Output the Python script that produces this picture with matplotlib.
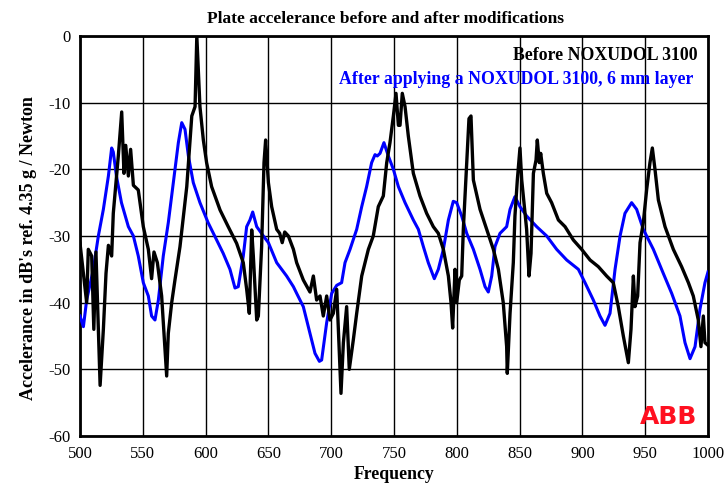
import matplotlib.pyplot as plt

# Before NOXUDOL 3100 (black)
freq_before = [500, 502.7, 505.3, 506.6, 509.3, 511, 512.7, 516, 518.6, 520.7, 522.6, 525.2, 526.5, 530.5,
               533.2, 535, 536.4, 538.5, 540.3, 542.5, 546.4, 550.4, 554.4, 557, 558.9, 561.6, 565, 569,
               570.3, 573, 575.6, 579.6, 585, 589, 591.6, 593, 595.5, 598.2, 600.8, 604.8, 611.5, 618,
               624.7, 630, 632.7, 634.8, 636.7, 638, 640.7, 642, 644.6, 646.5, 647.8, 650, 652.6, 656.6,
               659, 661, 663, 665.9, 669.9, 672.5, 677.8, 683.1, 685.8, 688.4, 691.1, 693.7, 696.4, 699,
               701.7, 704.4, 705.7, 707.8, 709.7, 712.3, 714.4, 717.6, 720.3, 724.3, 729.6, 733.5, 737.5,
               741.5, 744.2, 746.8, 749.5, 751.6, 753.5, 754.8, 756.6, 758.8, 761.4, 765.4, 770.7, 776,
               781.3, 785.3, 789.3, 793.3, 795.4, 796.7, 798.6, 799.9, 802, 803.9, 805.2, 807.9, 809.7,
               811.3, 813.2, 818.5, 823.8, 829.1, 833.1, 837, 839.7, 840.2, 842.4, 845, 846.3, 848.2,
               850.3, 851.7, 853.5, 855.6, 857.5, 859.1, 861, 863.1, 864.1, 865.7, 866.8, 868.9, 871.6,
               875.5, 880.9, 886.2, 892.8, 899.4, 906.1, 912.7, 919.3, 924.6, 928.6, 932.6, 936.6, 938.7,
               940.6, 941.9, 944, 945.9, 948.5, 951.2, 953.8, 955.7, 957.8, 960.5, 965.8, 972.4, 979,
               984.4, 988.3, 992.3, 994.4, 996.3, 997.6, 1000]
db_before = [-31.1, -35.6, -40, -32, -33, -44, -32.4, -52.4, -44, -35.6, -31.4, -33, -26.6, -18,
             -11.4, -20.6, -16.4, -21, -17, -22.4, -23.1, -28.6, -32, -36.4, -32.4, -34, -39, -51,
             -44.6, -40, -36.6, -31.6, -22.6, -12, -10.6, 0, -10.6, -15.6, -19, -22.6, -26.1, -28.6,
             -31.1, -34, -38, -41.6, -29.1, -33, -42.6, -42, -31.6, -19, -15.6, -22, -25.6, -29,
             -29.6, -31, -29.4, -30, -32, -34, -36.6, -38.4, -36, -39.6, -39, -42, -39, -42.6,
             -41.6, -38, -44, -53.6, -46, -40.6, -50, -45.6, -41.6, -36, -32, -30, -25.6,
             -24, -19, -16, -12, -8.6, -13.4, -13.4, -8.6, -10.6, -15, -20.6, -24, -26.6,
             -28.6, -29.6, -32, -36, -40, -43.8, -35, -40, -36.6, -36, -29, -19, -12.4,
             -12, -21.6, -26, -29, -32, -35, -40, -46.6, -50.6, -41.6, -34, -27, -21.6,
             -16.8, -21.6, -25, -29, -36, -32.6, -20.6, -18.6, -15.6, -19, -17.6, -20.6, -23.6,
             -25, -27.6, -28.6, -30.6, -32, -33.6, -34.6, -36, -37, -40.6, -45, -49, -44,
             -36, -40.6, -39, -31, -28, -23, -19, -16.8, -20, -24.6, -28.6, -32, -34.6,
             -37, -39, -42.6, -46.6, -42, -46, -46.4]

# After applying a NOXUDOL 3100, 6 mm layer (blue)
freq_after = [500, 502.7, 505.3, 510.6, 514.6, 518.6, 522.6, 525.2, 526.5, 529, 533, 538.5, 542.5,
              546.4, 550.4, 554.4, 557, 559.7, 562.4, 566.3, 570.3, 574.3, 578.3, 581, 583.6, 586.3,
              590.2, 595.5, 602, 608.8, 614, 619.4, 623.4, 626, 630, 632.7, 635.3, 637.5, 640.7, 646,
              650, 656.6, 664.5, 669.9, 672.5, 677.8, 683.1, 687.1, 690.6, 692.4, 696.4, 700.4, 704.4,
              708.3, 711, 715, 720.3, 724.3, 728.2, 732.2, 734.9, 736.7, 738.9, 742, 745.5, 749.5,
              753.5, 758.8, 765.4, 769.4, 773.4, 777.3, 782.1, 785.3, 789.3, 793.3, 797.2, 799.9,
              803.9, 807.9, 813.2, 818.5, 822.5, 825.1, 827.8, 830.4, 834.4, 839.7, 842.4, 846.3,
              850.3, 855.6, 863.6, 871.6, 879.5, 887.5, 896.8, 902.1, 908.7, 914, 918, 922, 926, 930,
              933.9, 939.2, 943.2, 948.5, 956.5, 964.4, 971.1, 977.7, 981.7, 985.7, 989.7, 993.6,
              997.6, 1000]
db_after = [-42, -43.6, -39.6, -35, -30, -26, -21, -16.8, -17.4, -21, -25, -28.6, -30,
            -33, -37, -39, -42, -42.6, -39.6, -33, -28, -22, -16, -13, -14, -18,
            -22, -25, -28, -30.6, -32.6, -35, -37.8, -37.6, -33, -28.6, -27.6, -26.4, -28.6, -30,
            -31, -34, -36, -37.6, -38.6, -40.6, -44.6, -47.6, -48.8, -48.6, -43, -38.6, -37.4,
            -37, -34, -32, -29, -25.6, -22.6, -19, -17.8, -18, -17.6, -16, -18, -20,
            -22.6, -25, -27.6, -29, -31.6, -34, -36.4, -35, -32, -27.6, -24.8, -25,
            -27, -29.6, -32, -35, -37.6, -38.4, -36, -31.6, -29.6, -28.6, -26, -24.1,
            -25.6, -27, -28.6, -30, -32, -33.6, -35, -37, -39.6, -42, -43.4, -41.6, -35, -30,
            -26.6, -25, -26, -29, -32, -35.6, -38.6, -42, -46, -48.4, -46.6, -41,
            -37, -35.4]

x_ticks = [500, 550, 600, 650, 700, 750, 800, 850, 900, 950, 1000]
y_ticks = [-60, -50, -40, -30, -20, -10, 0]

plt.rcParams['font.family'] = ['Liberation Serif', 'DejaVu Serif']
plt.rcParams['axes.unicode_minus'] = False

fig = plt.figure(figsize=(7.28, 4.91), dpi=100)
ax = fig.add_axes([0.1099, 0.112, 0.8626, 0.8147])

ax.plot(freq_after, db_after, color="#0000ff", lw=2.2, zorder=3)
ax.plot(freq_before, db_before, color="black", lw=2.4, zorder=4)

ax.set_xlim(500, 1000)
ax.set_ylim(-60, 0)
ax.set_xticks(x_ticks)
ax.set_yticks(y_ticks)
ax.tick_params(length=0, labelsize=12, pad=7)
ax.grid(True, color="black", lw=1)
ax.set_axisbelow(True)
for s in ax.spines.values():
    s.set_linewidth(2)

ax.set_title("Plate accelerance before and after modifications", fontsize=12.5, fontweight="bold",
             pad=9, x=0.487)
ax.set_xlabel("Frequency", fontsize=12.8, fontweight="bold", labelpad=3)
ax.set_ylabel("Accelerance in dB's ref. 4.35 g / Newton", fontsize=13, fontweight="bold")
ax.yaxis.set_label_coords(-0.068, 0.47)

ax.text(0.983, 0.95, "Before NOXUDOL 3100", transform=ax.transAxes, ha="right", va="center",
        fontsize=12.8, fontweight="bold", color="black", zorder=6)
ax.text(0.977, 0.892, "After applying a NOXUDOL 3100, 6 mm layer", transform=ax.transAxes, ha="right",
        va="center", fontsize=12.8, fontweight="bold", color="#0000ff", zorder=6)

ax.text(0.983, 0.047, "ABB", transform=ax.transAxes, ha="right", va="center",
        fontsize=18, fontweight="bold", color="#ff1020", family=["DejaVu Sans"], zorder=6)

plt.savefig("out.png", dpi=100)
